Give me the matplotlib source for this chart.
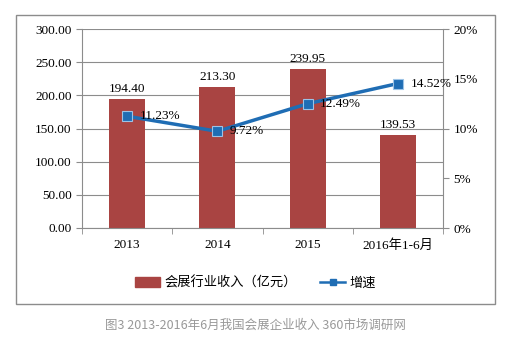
import numpy as np
import matplotlib.pyplot as plt
from matplotlib.patches import Rectangle
from matplotlib.ticker import FuncFormatter

plt.rcParams['font.family'] = ['Liberation Serif', 'Noto Sans CJK SC']

categories = ['2013', '2014', '2015', '2016年1-6月']
revenue = [194.40, 213.30, 239.95, 139.53]
growth = [11.23, 9.72, 12.49, 14.52]
bar_color = '#a94442'
line_color = '#1f6db4'

fig = plt.figure(figsize=(5.11, 3.47), dpi=100)
W, H = 511, 347

# outer frame
fig.add_artist(Rectangle((16 / W, 1 - 304 / H), 479 / W, 289 / H, transform=fig.transFigure,
                         fill=False, edgecolor='#8c8c8c', linewidth=1.0))

ax = fig.add_axes([82 / W, 1 - 228 / H, 361 / W, 199 / H])
x = np.arange(len(categories))
ax.bar(x, revenue, width=0.4, color=bar_color, zorder=2)
ax.set_xlim(-0.5, len(categories) - 0.5)
ax.set_ylim(0, 300)
ax.set_yticks(np.arange(0, 301, 50))
ax.yaxis.set_major_formatter(FuncFormatter(lambda v, p: '%.2f' % v))
ax.grid(axis='y', color='#8c8c8c', linewidth=0.8, zorder=0)
ax.set_xticks(x)
ax.set_xticklabels(categories, fontsize=9.5)
ax.set_xticks(np.arange(-0.5, len(categories)), minor=True)
ax.tick_params(axis='x', which='major', length=0, pad=8)
ax.tick_params(axis='x', which='minor', length=4, color='#8c8c8c')
ax.tick_params(axis='y', labelsize=9.5, length=4, color='#8c8c8c')
for s in ['top', 'right']:
    ax.spines[s].set_visible(False)
for s in ['left', 'bottom']:
    ax.spines[s].set_color('#8c8c8c')

for xi, v in zip(x, revenue):
    ax.text(xi, v + 6, '%.2f' % v, ha='center', va='bottom', fontsize=9.5)

ax2 = ax.twinx()
ax2.plot(x, growth, color=line_color, linewidth=2.5, marker='s', markersize=7,
         markerfacecolor=line_color, markeredgecolor='#9cc3e6', markeredgewidth=0.8, zorder=3)
ax2.set_ylim(0, 20)
ax2.set_yticks(np.arange(0, 21, 5))
ax2.yaxis.set_major_formatter(FuncFormatter(lambda v, p: '%d%%' % v))
ax2.tick_params(axis='y', labelsize=9.5, length=4, color='#8c8c8c')
for s in ['top', 'left', 'bottom']:
    ax2.spines[s].set_visible(False)
ax2.spines['right'].set_color('#8c8c8c')
for xi, g in zip(x, growth):
    ax2.text(xi + 0.14, g, '%.2f%%' % g, ha='left', va='center', fontsize=9.5)

# legend
h1 = Rectangle((0, 0), 1, 1, color=bar_color)
h2, = ax.plot([], [], color=line_color, linewidth=1.8, marker='s', markersize=5)
fig.legend([h1, h2], ['会展行业收入（亿元）', '增速'], loc='center',
           bbox_to_anchor=(0.5, 1 - 283 / H), ncol=2, frameon=False,
           prop={'family': ['Noto Sans CJK SC'], 'size': 9.5}, handlelength=1.9,
           columnspacing=1.8, handletextpad=0.3)

fig.text(0.5, 1 - 325 / H, '图3 2013-2016年6月我国会展企业收入 360市场调研网', ha='center', va='center',
         fontsize=9, color='#999999', family=['Noto Sans CJK SC'])

fig.savefig('out.png', dpi=100)
